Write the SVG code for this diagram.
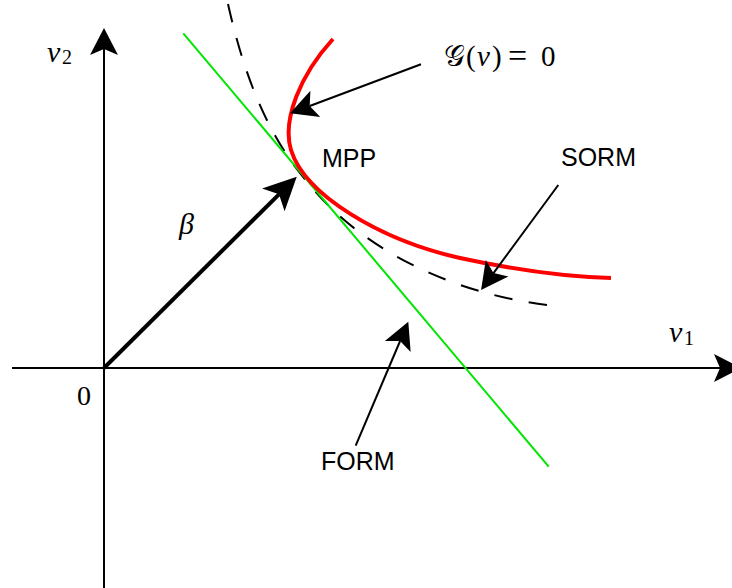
<svg xmlns="http://www.w3.org/2000/svg" width="732" height="588" viewBox="0 0 732 588">
<style>
.ax{stroke:#000;stroke-width:2;fill:none}
.ptr{stroke:#000;stroke-width:2;fill:none;marker-end:url(#head)}
.sans{font-family:"Liberation Sans",Arial,sans-serif;font-size:25px;fill:#000}
.math{font-family:"Liberation Serif","Times New Roman",serif;fill:#000}
.it{font-style:italic}
</style>
<defs>
<marker id="head" markerUnits="userSpaceOnUse" orient="auto" refX="6" refY="0" markerWidth="30" markerHeight="30" overflow="visible">
<path d="M27,0 L0,-14 L6,0 L0,14 Z" fill="#000"/>
</marker>
<marker id="bighead" markerUnits="userSpaceOnUse" orient="auto" refX="8" refY="0" markerWidth="36" markerHeight="36" overflow="visible">
<path d="M33,0 L0,-16 L8,0 L0,16 Z" fill="#000"/>
</marker>
</defs>
<rect width="732" height="588" fill="#fff"/>
<g id="axes">
<line class="ax" x1="104" y1="588" x2="104" y2="49" marker-end="url(#head)"/>
<line class="ax" x1="12" y1="368" x2="720" y2="368" marker-end="url(#head)"/>
</g>
<g id="curves">
<path id="dashed" d="M228,4 C245,80 270,140 310,185 C350,235 430,290 547,305" pathLength="460" fill="none" stroke="#000" stroke-width="2" stroke-dasharray="18,16"/>
<line id="form-line" x1="183.3" y1="33.3" x2="548.7" y2="466.7" stroke="#00e600" stroke-width="2"/>
<path id="limit-state" d="M333,39 C300,75 282,120 291,150 C305,195 380,240 460,258 C520,271 570,277 611,278" fill="none" stroke="#ff0000" stroke-width="4"/>
</g>
<g id="connectors">
<line id="beta" x1="104" y1="368" x2="279" y2="194.3" stroke="#000" stroke-width="4" marker-end="url(#bighead)"/>
<line class="ptr" x1="421" y1="64.3" x2="309.7" y2="106"/>
<line class="ptr" x1="558.3" y1="185" x2="493.5" y2="273.1"/>
<line class="ptr" x1="355.7" y1="445.7" x2="400.1" y2="341"/>
</g>
<g id="labels">
<text class="math" font-size="30"><tspan class="it" x="47" y="62">v</tspan><tspan x="62" y="64" font-size="20">2</tspan></text>
<text class="math" font-size="30"><tspan class="it" x="669" y="342">v</tspan><tspan x="684" y="345" font-size="20">1</tspan></text>
<text class="math it" font-size="30" x="179" y="234">β</text>
<text class="math" font-size="28" x="77" y="405">0</text>
<text class="math" font-size="29"><tspan x="444" y="66">𝒢</tspan><tspan x="466" y="66">(</tspan><tspan class="it" x="477" y="66">v</tspan><tspan x="492" y="66">)</tspan><tspan x="508" y="67" font-size="34">=</tspan><tspan x="541" y="66">0</tspan></text>
<text class="sans" x="322" y="167">MPP</text>
<text class="sans" x="561" y="166">SORM</text>
<text class="sans" x="321" y="470">FORM</text>
</g>
</svg>
